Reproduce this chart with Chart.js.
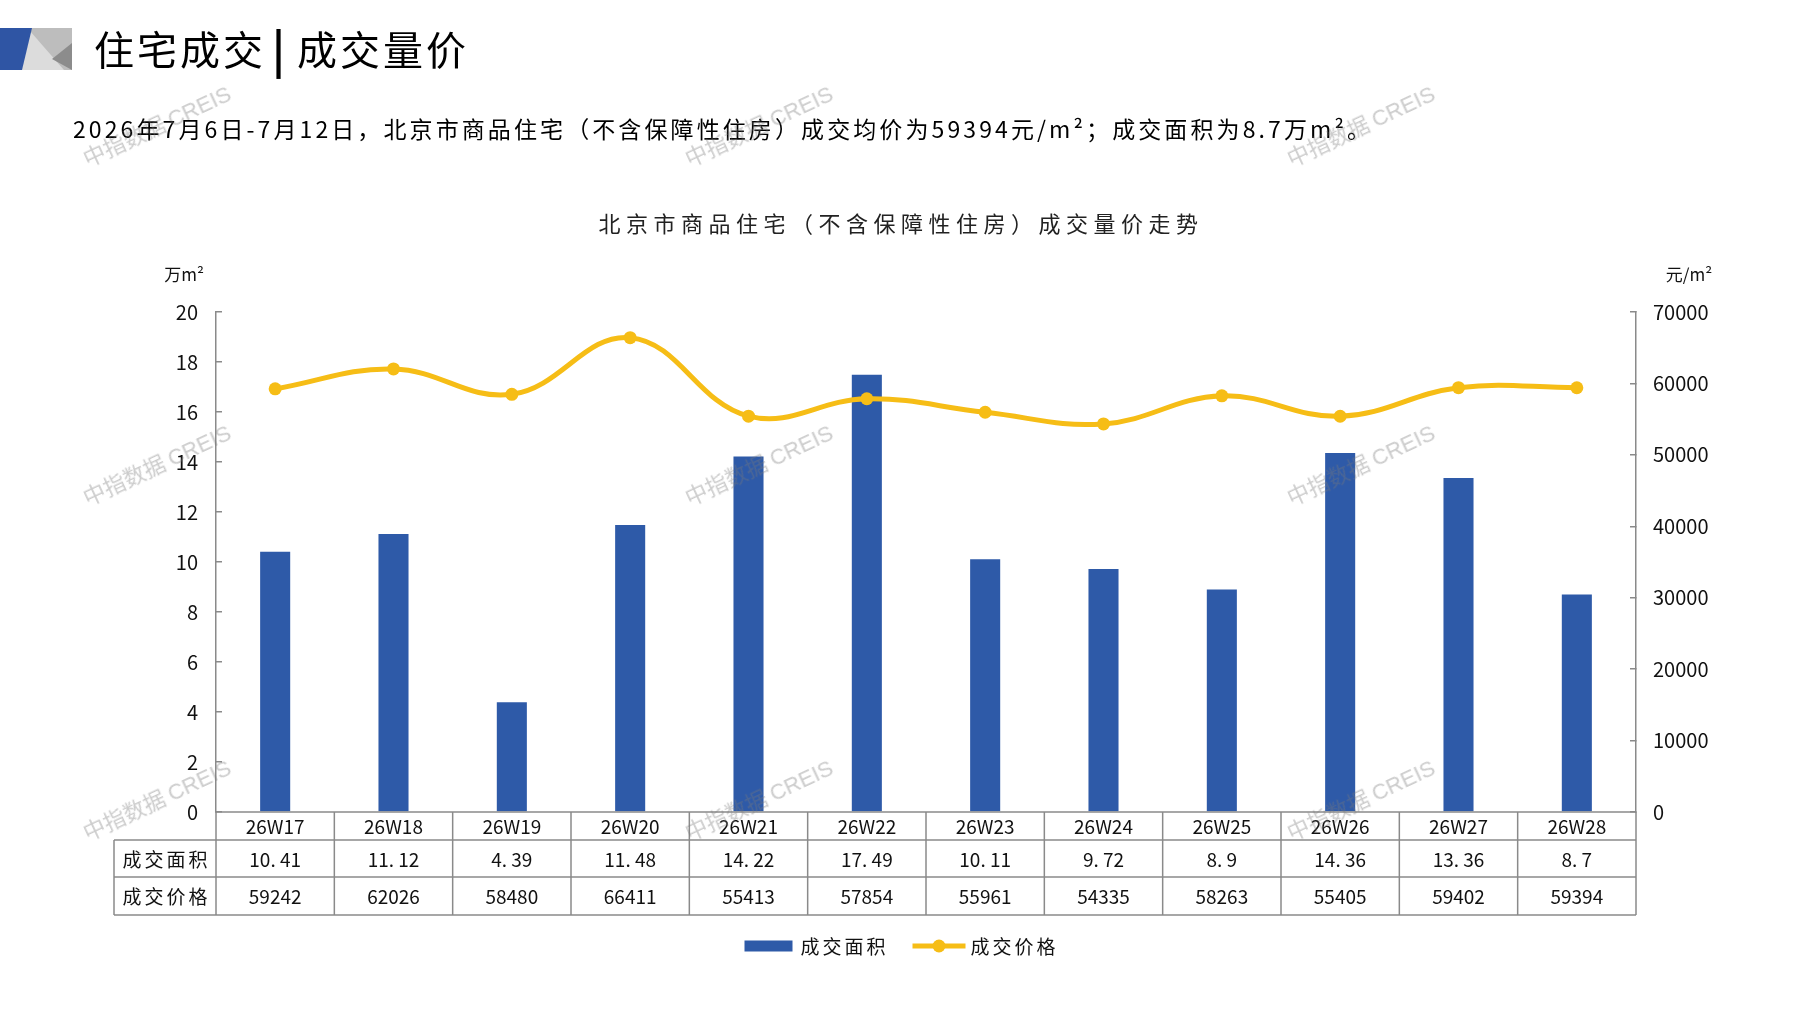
<!DOCTYPE html>
<html><head><meta charset="utf-8">
<script src="https://cdn.jsdelivr.net/npm/chart.js@4.4.0/dist/chart.umd.min.js"></script>
<style>
html,body{margin:0;padding:0;background:#fff;width:1797px;height:1010px;overflow:hidden;font-family:"Noto Sans CJK SC","Noto Sans",sans-serif;}
#wrap{position:relative;width:1797px;height:1010px;}
#c{position:absolute;left:0;top:0;}
.abs{position:absolute;white-space:nowrap;color:#000;}
.hdr{font-size:40px;line-height:40px;top:28px;letter-spacing:3px;}
.sub{font-size:23px;line-height:24px;top:116px;left:73px;letter-spacing:3.1px;}
.ctitle{font-size:22px;line-height:22px;top:211px;left:901px;transform:translateX(-50%);letter-spacing:5.5px;color:#222;}
.wm{position:absolute;font-size:22px;color:rgba(120,120,120,0.38);transform:translate(-50%,-50%) rotate(-25deg);white-space:nowrap;pointer-events:none;}
.wm span{font-family:"Liberation Sans",Arial,sans-serif;}
</style></head>
<body>
<div id="wrap">
<canvas id="c" width="1797" height="1010"></canvas>
<svg class="abs" style="left:0;top:28px" width="72" height="42">
  <rect x="20" y="0" width="52" height="42" fill="#bdbdbd"/>
  <polygon points="30,3 64,42 20,42" fill="#dcdcdc"/>
  <polygon points="52,31 72,15 72,42" fill="#8c8c8c"/>
  <polygon points="0,0 32,0 22,42 0,42" fill="#2f55a4"/>
</svg>
<div class="abs hdr" style="left:94px;">住宅成交</div>
<div class="abs hdr" style="left:272px;top:25px;font-size:44px;line-height:44px;font-weight:bold;letter-spacing:0;">|</div>
<div class="abs hdr" style="left:297px;">成交量价</div>
<div class="abs sub">2026年7月6日-7月12日，北京市商品住宅（不含保障性住房）成交均价为59394元/m²；成交面积为8.7万m²。</div>
<div class="abs ctitle">北京市商品住宅（不含保障性住房）成交量价走势</div>
<div id="wms"></div>
</div>
<script>
// ---- data ----
const categories = ['26W17','26W18','26W19','26W20','26W21','26W22','26W23','26W24','26W25','26W26','26W27','26W28'];
const areaValues = [10.41, 11.12, 4.39, 11.48, 14.22, 17.49, 10.11, 9.72, 8.9, 14.36, 13.36, 8.7];
const priceValues = [59242, 62026, 58480, 66411, 55413, 57854, 55961, 54335, 58263, 55405, 59402, 59394];
const seriesNames = ['成交面积', '成交价格'];
const leftUnit = '万m²';
const rightUnit = '元/m²';
const leftTicks = {min: 0, max: 20, step: 2};
const rightTicks = {min: 0, max: 70000, step: 10000};

// watermarks
const wmCenters = [[156,124],[758,124],[1360,124],[156,463],[758,463],[1360,463],[156,798],[758,798],[1360,798]];
const wmBox = document.getElementById('wms');
wmCenters.forEach(p => {
  const d = document.createElement('div');
  d.className = 'wm';
  d.style.left = p[0] + 'px'; d.style.top = p[1] + 'px';
  d.innerHTML = '中指数据 <span>CREIS</span>';
  wmBox.appendChild(d);
});

const BLUE = '#2e5aa8';
const GOLD = '#f6bd16';
const AXIS = '#8a8a8a';
const FONT = '"Noto Sans CJK SC","Noto Sans",sans-serif';

function fmtArea(v){ return String(v).replace('.', '. '); }

const extras = {
  id: 'extras',
  afterDraw(chart){
    const {ctx, chartArea} = chart;
    const x = chart.scales.x, y = chart.scales.y, y1 = chart.scales.y1;
    const n = categories.length;
    const colW = (x.right - x.left) / n;
    const top = chartArea.bottom;
    const r1 = top + 28, r2 = r1 + 37, bot = r2 + 38;
    const tl = y.right - 102;
    ctx.save();
    ctx.strokeStyle = AXIS; ctx.lineWidth = 1.5;
    ctx.beginPath();
    ctx.moveTo(x.left, top); ctx.lineTo(x.right, top);
    [r1, r2, bot].forEach(yy => { ctx.moveTo(tl, yy); ctx.lineTo(x.right, yy); });
    for (let i = 0; i <= n; i++) {
      const xx = x.left + i * colW;
      ctx.moveTo(xx, top); ctx.lineTo(xx, bot);
    }
    ctx.moveTo(tl, r1); ctx.lineTo(tl, bot);
    ctx.stroke();

    ctx.fillStyle = '#111';
    ctx.textAlign = 'center'; ctx.textBaseline = 'middle';
    ctx.font = '19px ' + FONT;
    categories.forEach((c, i) => {
      const cx = x.getPixelForValue(i);
      ctx.fillText(c, cx, (top + r1) / 2 + 1);
      ctx.fillText(fmtArea(areaValues[i]), cx, (r1 + r2) / 2 + 1);
      ctx.fillText(String(priceValues[i]), cx, (r2 + bot) / 2 + 1);
    });
    ctx.letterSpacing = '3px';
    ctx.fillText(seriesNames[0], (tl + y.right) / 2 + 1.5, (r1 + r2) / 2 + 1);
    ctx.fillText(seriesNames[1], (tl + y.right) / 2 + 1.5, (r2 + bot) / 2 + 1);
    ctx.letterSpacing = '0px';

    // units
    ctx.font = '17px ' + FONT;
    ctx.fillText(leftUnit, y.right - 32, y.top - 37);
    ctx.fillText(rightUnit, y1.left + 53, y1.top - 37);

    // legend
    ctx.font = '19px ' + FONT;
    ctx.letterSpacing = '3px';
    const w0 = ctx.measureText(seriesNames[0]).width;
    const w1 = ctx.measureText(seriesNames[1]).width;
    const total = 48 + 8 + w0 + 24 + 53 + 5 + w1;
    let lx = chart.width / 2 + 3 - total / 2;
    const ly = bot + 31;
    ctx.fillStyle = BLUE;
    ctx.fillRect(lx, ly - 5.5, 48, 11);
    lx += 48 + 8;
    ctx.fillStyle = '#111'; ctx.textAlign = 'left';
    ctx.fillText(seriesNames[0], lx, ly + 1);
    lx += w0 + 24;
    ctx.strokeStyle = GOLD; ctx.lineWidth = 5;
    ctx.beginPath(); ctx.moveTo(lx, ly); ctx.lineTo(lx + 53, ly); ctx.stroke();
    ctx.fillStyle = GOLD;
    ctx.beginPath(); ctx.arc(lx + 26.5, ly, 6.5, 0, Math.PI * 2); ctx.fill();
    lx += 53 + 5;
    ctx.fillStyle = '#111';
    ctx.fillText(seriesNames[1], lx, ly + 1);
    ctx.restore();
  }
};

new Chart(document.getElementById('c'), {
  data: {
    labels: categories,
    datasets: [
      {
        type: 'line', label: seriesNames[1], data: priceValues, yAxisID: 'y1', order: 0,
        borderColor: GOLD, backgroundColor: GOLD, borderWidth: 5,
        pointRadius: 6.5, pointBackgroundColor: GOLD, pointBorderWidth: 0,
        tension: 0.4, fill: false
      },
      {
        type: 'bar', label: seriesNames[0], data: areaValues, yAxisID: 'y', order: 1,
        backgroundColor: BLUE, barPercentage: 0.254, categoryPercentage: 1.0
      }
    ]
  },
  options: {
    responsive: false,
    animation: false,
    devicePixelRatio: 1,
    layout: {padding: {top: 312, bottom: 95, left: 0, right: 0}},
    plugins: {legend: {display: false}, tooltip: {enabled: false}, title: {display: false}},
    scales: {
      x: {
        type: 'category', offset: true,
        grid: {display: false}, border: {display: false},
        ticks: {display: false},
        afterFit(s){ s.height = 103; }
      },
      y: {
        position: 'left', min: leftTicks.min, max: leftTicks.max,
        ticks: {stepSize: leftTicks.step, padding: 24, color: '#111', font: {family: FONT, size: 20},
                callback: v => String(v)},
        grid: {drawOnChartArea: false, drawTicks: true, tickLength: -6, color: AXIS, lineWidth: 1.5},
        border: {display: true, color: AXIS, width: 1.5},
        afterFit(s){ s.width = 216; }
      },
      y1: {
        position: 'right', min: rightTicks.min, max: rightTicks.max,
        ticks: {stepSize: rightTicks.step, padding: 23, color: '#111', font: {family: FONT, size: 20},
                callback: v => String(v)},
        grid: {drawOnChartArea: false, drawTicks: true, tickLength: -6, color: AXIS, lineWidth: 1.5},
        border: {display: true, color: AXIS, width: 1.5},
        afterFit(s){ s.width = 161; }
      }
    }
  },
  plugins: [extras]
});
</script>
</body></html>
